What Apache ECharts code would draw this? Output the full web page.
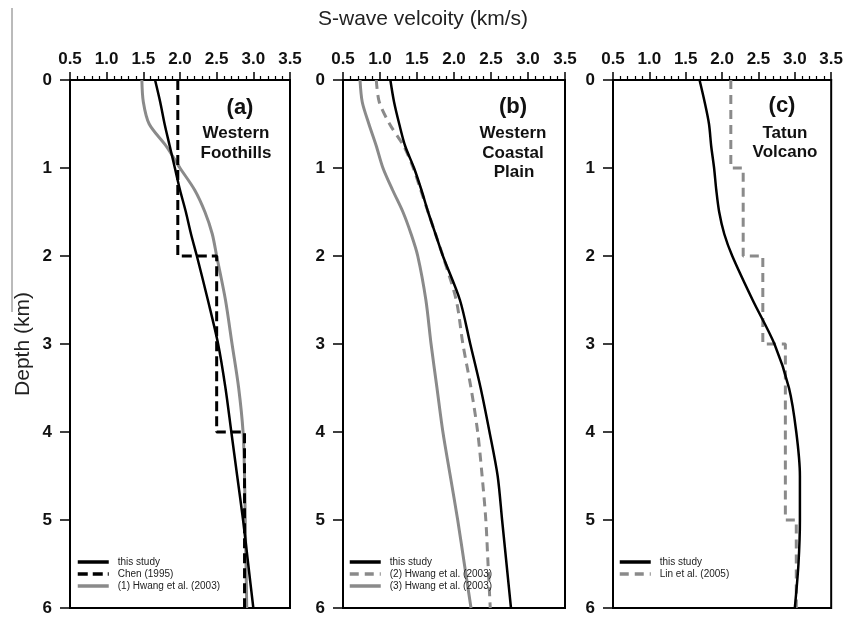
<!DOCTYPE html>
<html>
<head>
<meta charset="utf-8">
<script src="https://cdn.jsdelivr.net/npm/echarts@6/dist/echarts.min.js"></script>
<style>
  html, body { margin: 0; padding: 0; background: #fff; }
  #chart { width: 846px; height: 621px; }
</style>
</head>
<body>
<div id="chart"></div>
<script>
// depth samples (km) shared by the smooth profiles
const depths = [0, 0.25, 0.5, 0.75, 1, 1.25, 1.5, 1.75, 2, 2.5, 3, 3.5, 4, 4.5, 5, 5.5, 6];

// (a) Western Foothills
const studyA  = [1.66, 1.73, 1.79, 1.86, 1.93, 2.00, 2.08, 2.15, 2.23, 2.38, 2.52, 2.62, 2.70, 2.78, 2.86, 2.93, 3.00];
const hwang1  = [1.48, 1.50, 1.58, 1.81, 2.00, 2.20, 2.34, 2.44, 2.50, 2.62, 2.71, 2.80, 2.86, 2.88, 2.89, 2.90, 2.91];
const chenDepth = [0, 2, 4, 6];
const chenVel   = [1.97, 2.50, 2.88];

// (b) Western Coastal Plain
const studyB  = [1.14, 1.19, 1.26, 1.34, 1.46, 1.56, 1.65, 1.75, 1.85, 2.08, 2.22, 2.36, 2.48, 2.59, 2.65, 2.71, 2.77];
const hwang2  = [0.95, 0.99, 1.13, 1.32, 1.45, 1.55, 1.65, 1.75, 1.85, 2.03, 2.12, 2.23, 2.32, 2.38, 2.43, 2.46, 2.49];
const hwang3  = [0.73, 0.76, 0.85, 0.95, 1.04, 1.17, 1.31, 1.42, 1.51, 1.62, 1.69, 1.77, 1.85, 1.95, 2.05, 2.14, 2.23];

// (c) Tatun Volcano
const studyC  = [1.69, 1.76, 1.82, 1.85, 1.89, 1.92, 1.96, 2.03, 2.14, 2.42, 2.72, 2.92, 3.02, 3.07, 3.07, 3.05, 3.00];
const linDepth = [0, 1, 2, 3, 5, 6];
const linVel   = [2.12, 2.29, 2.56, 2.87, 3.02];

const velTicks = [0.5, 1.0, 1.5, 2.0, 2.5, 3.0, 3.5];
const depthTicks = [0, 1, 2, 3, 4, 5, 6];

const FONT = 'Liberation Sans, Arial, sans-serif';
const GRAY = '#8a8a8a';

function profile(vals) {
  return vals.map((v, i) => [v, depths[i]]);
}
function steps(ds, vs) {
  const pts = [];
  vs.forEach((v, i) => {
    pts.push([v, ds[i]]);
    pts.push([v, ds[i + 1]]);
  });
  return pts;
}

const grids = [
  { left: 70, top: 80, width: 220, height: 528 },
  { left: 343, top: 80, width: 222, height: 528 },
  { left: 613, top: 80, width: 220, height: 528 }
].map(g => Object.assign(g, { show: true, borderColor: '#000', borderWidth: 2, backgroundColor: '#fff' }));

const xAxes = grids.map((g, i) => ({
  type: 'value', gridIndex: i, position: 'top',
  min: velTicks[0], max: velTicks[velTicks.length - 1], interval: 0.5,
  axisLine: { show: true, lineStyle: { color: '#000', width: 2 } },
  axisTick: { show: true, length: 8, lineStyle: { color: '#000', width: 1.5 } },
  minorTick: { show: true, splitNumber: 5, length: 4, lineStyle: { color: '#000', width: 1.2 } },
  splitLine: { show: false },
  axisLabel: { margin: 12, fontFamily: FONT, fontSize: 17, fontWeight: 'bold', color: '#111',
    formatter: v => v.toFixed(1) }
}));

const yAxes = grids.map((g, i) => ({
  type: 'value', gridIndex: i, inverse: true,
  min: depthTicks[0], max: depthTicks[depthTicks.length - 1], interval: 1,
  axisLine: { show: true, lineStyle: { color: '#000', width: 2 } },
  axisTick: { show: true, length: 10, lineStyle: { color: '#000', width: 1.5 } },
  splitLine: { show: false },
  axisLabel: { margin: 18, fontFamily: FONT, fontSize: 17, fontWeight: 'bold', color: '#111' }
}));

function line(name, idx, data, color, width, dash, smooth) {
  return {
    name: name, type: 'line', xAxisIndex: idx, yAxisIndex: idx,
    data: data, symbol: 'none', smooth: smooth ? 0.3 : false,
    lineStyle: { color: color, width: width, type: dash || 'solid' },
    itemStyle: { color: color },
    z: color === '#000' ? 4 : 3
  };
}

const series = [
  line('(1) Hwang et al. (2003)', 0, profile(hwang1), GRAY, 3, null, true),
  line('Chen (1995)', 0, steps(chenDepth, chenVel), '#000', 3, [10, 5], false),
  line('this study', 0, profile(studyA), '#000', 2.5, null, true),

  line('(3) Hwang et al. (2003)', 1, profile(hwang3), GRAY, 3, null, true),
  line('(2) Hwang et al. (2003)', 1, profile(hwang2), GRAY, 3, [9, 6], true),
  line('this study', 1, profile(studyB), '#000', 2.5, null, true),

  line('Lin et al. (2005)', 2, steps(linDepth, linVel), GRAY, 3, [9, 6], false),
  line('this study', 2, profile(studyC), '#000', 2.5, null, true)
];

function legend(left, names) {
  return {
    orient: 'vertical', left: left, top: 557, padding: 0,
    itemWidth: 31, itemHeight: 10, itemGap: 2, selectedMode: false,
    itemStyle: { opacity: 0 },
    lineStyle: { width: 3.5 },
    textStyle: { fontFamily: FONT, fontSize: 10, color: '#222', padding: [0, 0, 0, 4] },
    data: names
  };
}

function label(x, y, text, size) {
  return {
    type: 'text', x: x, y: y,
    style: { text: text, fontFamily: FONT, fontSize: size, fontWeight: 'bold', fill: '#111',
      align: 'center', verticalAlign: 'middle' }
  };
}

const chart = echarts.init(document.getElementById('chart'), null, { renderer: 'canvas' });
chart.setOption({
  animation: false,
  backgroundColor: '#fff',
  grid: grids,
  xAxis: xAxes,
  yAxis: yAxes,
  series: series,
  legend: [
    legend(76, ['this study', 'Chen (1995)', '(1) Hwang et al. (2003)']),
    legend(348, ['this study', '(2) Hwang et al. (2003)', '(3) Hwang et al. (2003)']),
    legend(618, ['this study', 'Lin et al. (2005)'])
  ],
  graphic: [
    { type: 'line', shape: { x1: 12, y1: 8, x2: 12, y2: 312 }, style: { stroke: '#777', lineWidth: 1 } },
    { type: 'text', x: 423, y: 19,
      style: { text: 'S-wave velcoity (km/s)', fontFamily: FONT, fontSize: 21, fill: '#222',
        align: 'center', verticalAlign: 'middle' } },
    { type: 'text', x: 23, y: 344, rotation: Math.PI / 2,
      style: { text: 'Depth (km)', fontFamily: FONT, fontSize: 21, fill: '#222',
        align: 'center', verticalAlign: 'middle' } },
    label(240, 108, '(a)', 22),
    label(236, 133, 'Western', 17),
    label(236, 153, 'Foothills', 17),
    label(513, 107, '(b)', 22),
    label(513, 133, 'Western', 17),
    label(513, 153, 'Coastal', 17),
    label(514, 172, 'Plain', 17),
    label(782, 106, '(c)', 22),
    label(785, 133, 'Tatun', 17),
    label(785, 152, 'Volcano', 17)
  ]
});
</script>
</body>
</html>
